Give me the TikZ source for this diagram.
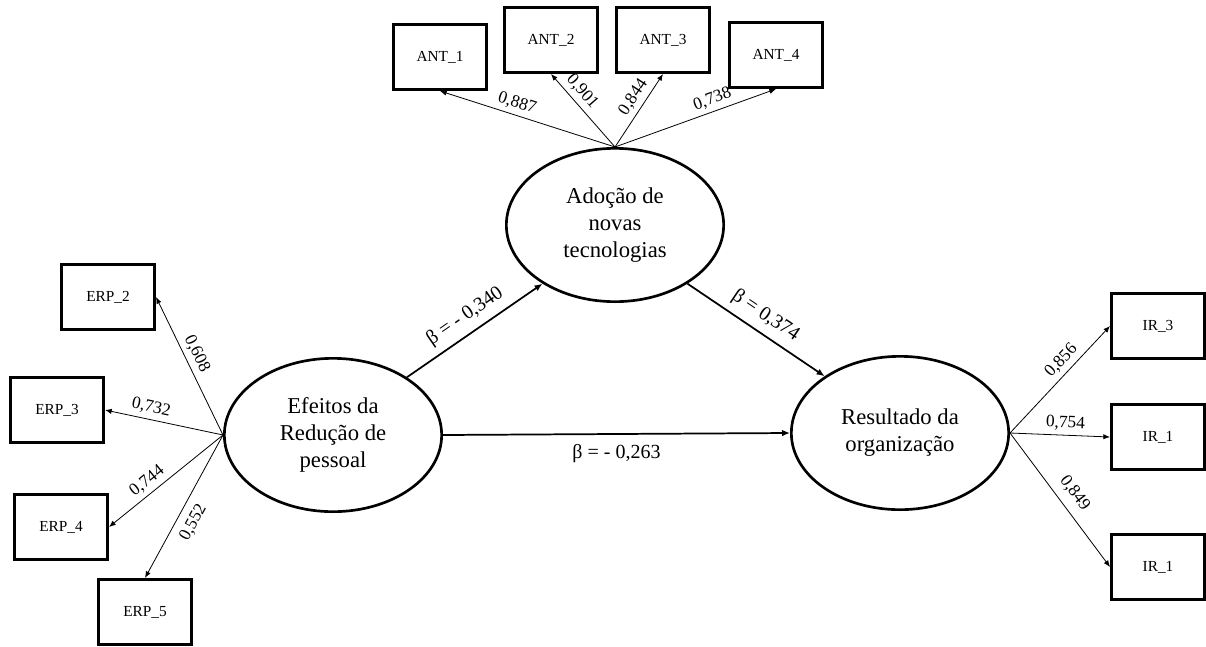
\documentclass[tikz,border=0pt]{standalone}
\usepackage{fontspec}
\setmainfont{Liberation Serif}
\usetikzlibrary{shapes.geometric, arrows.meta}

\begin{document}
\begin{tikzpicture}[x = 0.75pt, y = -0.75pt,
		latent/.style = {ellipse, draw, line width = 2pt, minimum width = 163pt, minimum height = 115pt, inner sep = 0pt, align = center, font = \fontsize{17}{20.25}\selectfont},
		indicator/.style = {draw, line width = 2pt, minimum width = 70pt, minimum height = 49pt, inner sep = 0pt, font = \fontsize{11.5}{13}\selectfont},
		load/.style = {line width = 0.6pt, -{Latex[length = 5pt, width = 4pt]}},
		path/.style = {line width = 1.3pt, -{Latex[length = 6pt, width = 5pt]}},
		coef/.style = {font = \fontsize{13}{15}\selectfont, sloped},
		beta/.style = {font = \fontsize{15}{17}\selectfont}]
	\useasboundingbox (0, 0) rectangle (1206, 646);

	% latent variables
	\node[latent] (ado) at (615, 225) {Adoção de\\novas\\tecnologias};
	\node[latent] (efe) at (333, 435) {Efeitos da\\Redução de\\pessoal};
	\node[latent] (res) at (900, 433) {Resultado da\\organização};

	% indicators
	\node[indicator] (ant1) at (440, 57) {ANT\_1};
	\node[indicator] (ant2) at (551, 40) {ANT\_2};
	\node[indicator] (ant3) at (663, 40) {ANT\_3};
	\node[indicator] (ant4) at (776, 55) {ANT\_4};
	\node[indicator] (erp2) at (108, 297) {ERP\_2};
	\node[indicator] (erp3) at (57, 410) {ERP\_3};
	\node[indicator] (erp4) at (61, 527) {ERP\_4};
	\node[indicator] (erp5) at (145, 612) {ERP\_5};
	\node[indicator] (ir3) at (1158, 326) {IR\_3};
	\node[indicator] (ir1) at (1158, 437) {IR\_1};
	\node[indicator] (ir1b) at (1158, 567) {IR\_1};

	% loadings
	\draw[load] (ado.north) -- (ant1.south) node[coef, pos = 0.58, above] {0,887};
	\draw[load] (ado.north) -- (ant2.south) node[coef, pos = 0.65, above] {0,901};
	\draw[load] (ado.north) -- (ant3.south) node[coef, pos = 0.59, above] {0,844};
	\draw[load] (ado.north) -- (ant4.south) node[coef, pos = 0.63, above] {0,738};

	\draw[load] (efe.west) -- (erp2.east) node[coef, pos = 0.55, above] {0,608};
	\draw[load] (efe.west) -- (erp3.east) node[coef, pos = 0.63, above] {0,732};
	\draw[load] (efe.west) -- (erp4.east) node[coef, pos = 0.6, above] {0,744};
	\draw[load] (efe.west) -- (erp5.north) node[coef, pos = 0.56, below = 3pt] {0,552};

	\draw[load] (res.east) -- (ir3.west) node[coef, pos = 0.6, above] {0,856};
	\draw[load] (res.east) -- (ir1.west) node[coef, pos = 0.55, above] {0,754};
	\draw[load] (res.east) -- (ir1b.west) node[coef, pos = 0.52, above = 3pt] {0,849};

	% structural paths
	\draw[path] (efe.38) -- (ado.219) node[beta, sloped, midway, above = 2pt] {β = - 0,340};
	\draw[path] (ado.321) -- (res.143) node[beta, sloped, midway, above = 2pt] {β = 0,374};
	\draw[path] (efe.east) -- (res.west) node[beta, midway, below = 4pt] {β = - 0,263};
\end{tikzpicture}
\end{document}
